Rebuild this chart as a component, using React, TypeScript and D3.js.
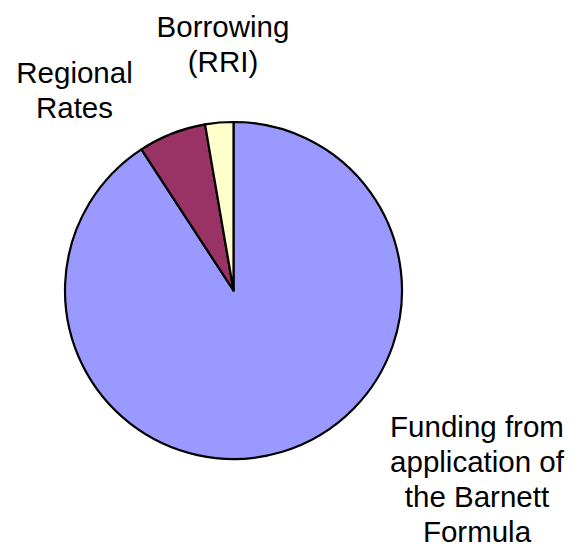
import React from "react";
import * as d3 from "d3";

const categories = [
  "Funding from application of the Barnett Formula",
  "Regional Rates",
  "Borrowing (RRI)",
];
const values = [90.8, 6.5, 2.7];
const colors = ["#9999FF", "#993366", "#FFFFCC"];
const labelLines = [
  ["Funding from", "application of", "the Barnett", "Formula"],
  ["Regional", "Rates"],
  ["Borrowing", "(RRI)"],
];

export default function App() {
  const W = 579, H = 554;
  const cx = 233.5, cy = 290.5, r = 168.5;
  const data = categories.map((c, i) => ({ c, v: values[i], i }));
  const pie = d3.pie<any>().sort(null).value((d) => d.v).startAngle(0).endAngle(2 * Math.PI);
  const arcs = pie(data);
  const arc = d3.arc<any>().innerRadius(0).outerRadius(r);
  // label anchor (center x, first baseline y)
  const labelPos = [
    { x: 477, y: 437 },
    { x: 74.5, y: 83 },
    { x: 223, y: 37 },
  ];
  const lineH = 35;
  return (
    <svg width={W} height={H} style={{ position: "absolute", left: 0, top: 0 }}>
      <rect width={W} height={H} fill="#fff" />
      <g transform={`translate(${cx},${cy})`}>
        {arcs.map((a, i) => (
          <path key={i} d={arc(a) as string} fill={colors[i]} stroke="#000" strokeWidth={2.2} strokeLinejoin="round" />
        ))}
      </g>
      {labelLines.map((lines, i) => (
        <text key={i} textAnchor="middle" fontFamily="'Liberation Sans', Arial, sans-serif" fontSize={29.5} fill="#000">
          {lines.map((l, j) => (
            <tspan key={j} x={labelPos[i].x} y={labelPos[i].y + j * lineH}>{l}</tspan>
          ))}
        </text>
      ))}
    </svg>
  );
}
